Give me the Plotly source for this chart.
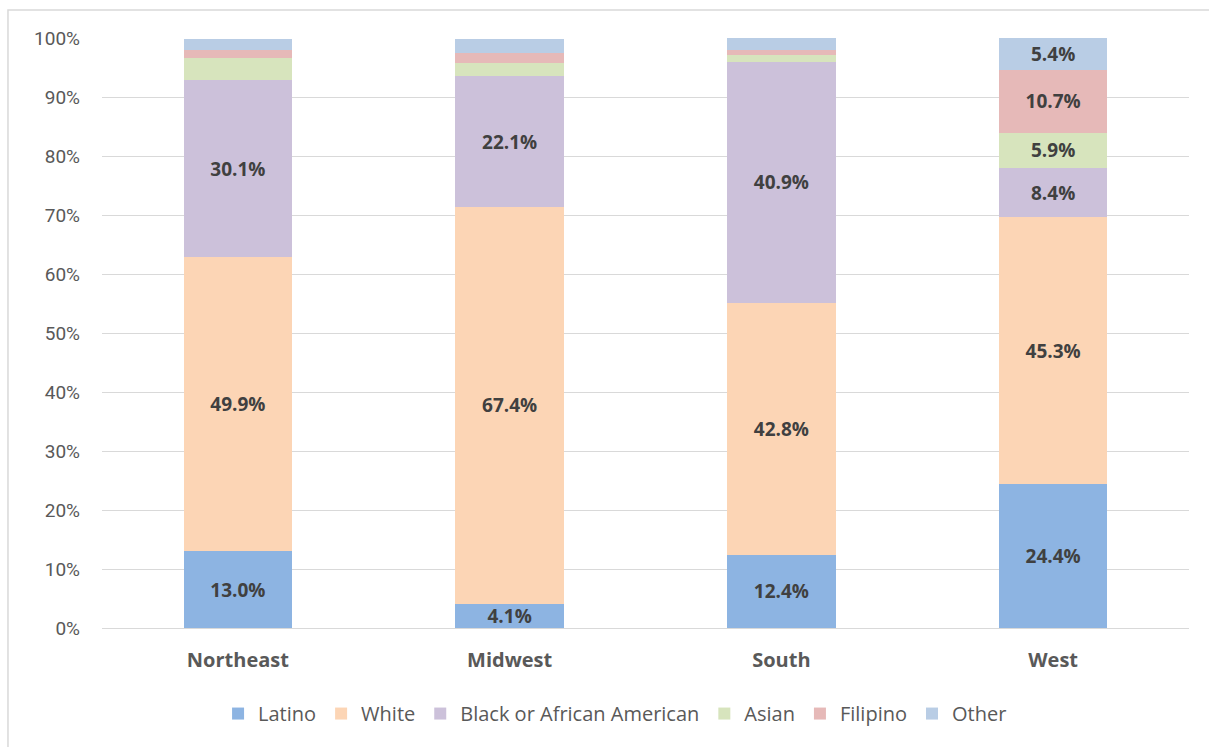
import plotly.graph_objects as go

regions = ["Northeast", "Midwest", "South", "West"]
latino = [13.0, 4.1, 12.4, 24.4]
white = [49.9, 67.4, 42.8, 45.3]
black = [30.1, 22.1, 40.9, 8.4]
asian = [3.8, 2.3, 1.1, 5.9]
filipino = [1.3, 1.6, 0.9, 10.7]
other = [1.9, 2.5, 2.0, 5.4]

series = [
    ("Latino", latino, "#8DB4E2"),
    ("White", white, "#FCD5B5"),
    ("Black or African American", black, "#CCC1DA"),
    ("Asian", asian, "#D7E4BD"),
    ("Filipino", filipino, "#E6B9B8"),
    ("Other", other, "#B9CDE5"),
]

FONT = "'Open Sans', 'Noto Sans', sans-serif"
NARROW = "'Liberation Sans Narrow', Roboto, sans-serif"
fig = go.Figure()
for name, vals, color in series:
    labels = [f"<b>{v:.1f}%</b>" if v >= 4 else "" for v in vals]
    fig.add_trace(go.Bar(
        name=name, x=regions, y=vals,
        marker=dict(color=color, line=dict(width=0)),
        text=labels, texttemplate="%{text}",
        textposition="inside", insidetextanchor="middle",
        textangle=0, constraintext="none", cliponaxis=False,
        textfont=dict(color="#404040", size=19, family=FONT),
        hoverinfo="skip",
    ))

fig.update_layout(
    barmode="stack",
    bargap=0.6,
    width=1209, height=747,
    margin=dict(l=102, r=20, t=38, b=119),
    paper_bgcolor="white", plot_bgcolor="white",
    font=dict(family=FONT, color="#595959", size=20),
    showlegend=True,
    uniformtext=dict(mode=None),
    legend=dict(orientation="h", x=0.472, xanchor="center", y=-0.145, yanchor="middle",
                font=dict(size=20, color="#595959", family=FONT),
                traceorder="normal", itemwidth=30),
    xaxis=dict(
        tickmode="array", tickvals=regions,
        ticktext=[f"<b>{r}</b>" for r in regions],
        tickfont=dict(size=20, color="#595959", family=FONT),
        showgrid=False, showline=False, ticks="",
        ticklabelstandoff=18,
    ),
    yaxis=dict(
        range=[0, 100.12], tickvals=[0, 10, 20, 30, 40, 50, 60, 70, 80, 90, 100],
        ticktext=[f"{v}%" for v in range(0, 101, 10)],
        tickfont=dict(size=19, color="#595959", family=NARROW),
        showgrid=True, gridcolor="#D9D9D9", gridwidth=1,
        zeroline=True, zerolinecolor="#D9D9D9", zerolinewidth=1,
        showline=False, ticks="", ticklabelstandoff=21,
    ),
    shapes=[dict(type="rect", xref="paper", yref="paper",
                 x0=-0.0865, x1=1.2, y0=-0.4, y1=1.0475,
                 line=dict(color="#D9D9D9", width=1.5), layer="below")],
)

fig.write_html("out.html")
